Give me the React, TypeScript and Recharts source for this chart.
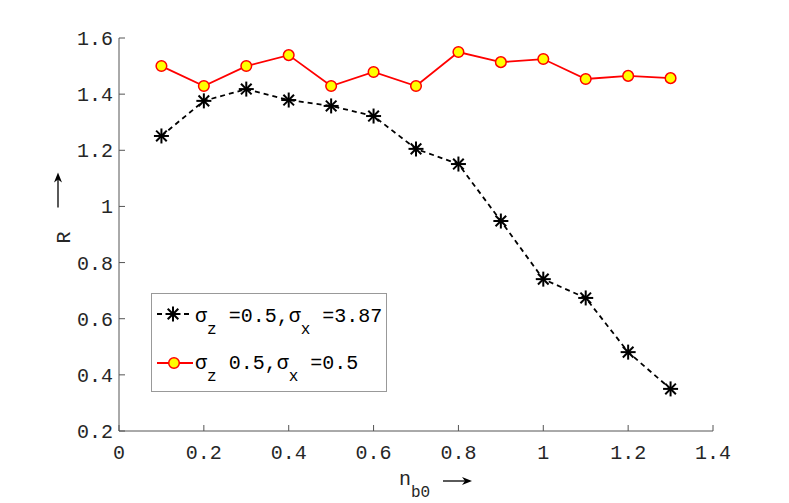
import React from "react";
import { LineChart, Line, XAxis, YAxis, Legend } from "recharts";

// n_b0 sample points and the two R curves
const nb0 = [0.1, 0.2, 0.3, 0.4, 0.5, 0.6, 0.7, 0.8, 0.9, 1.0, 1.1, 1.2, 1.3];
const rSigmaX387 = [1.251, 1.376, 1.418, 1.379, 1.358, 1.322, 1.205, 1.151, 0.948, 0.741, 0.674, 0.481, 0.35];
const rSigmaX05 = [1.5, 1.429, 1.5, 1.539, 1.429, 1.479, 1.429, 1.55, 1.514, 1.525, 1.454, 1.465, 1.457];

const xTicks = [0, 0.2, 0.4, 0.6, 0.8, 1, 1.2, 1.4];
const yTicks = [0.2, 0.4, 0.6, 0.8, 1, 1.2, 1.4, 1.6];

// legend text pieces: [sigma, sub, middle, sub, tail]
const legendStar = ["σ", "z", " =0.5,σ", "x", " =3.87"];
const legendCircle = ["σ", "z", " 0.5,σ", "x", " =0.5"];

const data = nb0.map((x, i) => ({ x, star: rSigmaX387[i], circle: rSigmaX05[i] }));

const FONT = "'Liberation Mono', 'DejaVu Sans Mono', monospace";
const AXIS = "#555";
const TEXT = "#262626";
const TICK = 6;
const FS = 20;

function BottomTick({ x, y, payload }: any) {
  return (
    <g>
      <line x1={x} y1={y} x2={x} y2={y - TICK} stroke={AXIS} />
      <text x={x} y={y + 28} textAnchor="middle" fontFamily={FONT} fontSize={FS} fill={TEXT}>
        {payload.value}
      </text>
    </g>
  );
}

function TopTick({ x, y }: any) {
  return <line x1={x} y1={y} x2={x} y2={y + TICK} stroke={AXIS} />;
}

function LeftTick({ x, y, payload }: any) {
  return (
    <g>
      <line x1={x} y1={y} x2={x + TICK} y2={y} stroke={AXIS} />
      <text x={x - 6} y={y + 7} textAnchor="end" fontFamily={FONT} fontSize={FS} fill={TEXT}>
        {payload.value}
      </text>
    </g>
  );
}

function RightTick({ x, y }: any) {
  return <line x1={x} y1={y} x2={x - TICK} y2={y} stroke={AXIS} />;
}

function arrowHead(x: number, y: number, dir: "right" | "up") {
  if (dir === "right") return `M${x} ${y} L${x - 10} ${y - 4} L${x - 7} ${y} L${x - 10} ${y + 4} Z`;
  return `M${x} ${y} L${x - 4} ${y + 10} L${x} ${y + 7} L${x + 4} ${y + 10} Z`;
}

function XLabel({ viewBox }: any) {
  const cx = viewBox.x + viewBox.width / 2;
  const base = viewBox.y + 54;
  const ay = base - 4;
  const x0 = cx + 27;
  const x1 = cx + 56;
  return (
    <g>
      <text x={cx - 17} y={base} fontFamily={FONT} fontSize={FS} fill={TEXT}>
        n<tspan fontSize={16} dy={12}>b0</tspan>
      </text>
      <line x1={x0} y1={ay} x2={x1 - 6} y2={ay} stroke="#000" strokeWidth={1.3} />
      <path d={arrowHead(x1, ay, "right")} fill="#000" />
    </g>
  );
}

function YLabel({ viewBox }: any) {
  const mid = viewBox.y + viewBox.height / 2;
  const bx = viewBox.x + 11;
  const ax = viewBox.x - 1;
  return (
    <g>
      <text
        x={bx}
        y={mid + 3}
        transform={`rotate(-90, ${bx}, ${mid + 3})`}
        textAnchor="middle"
        fontFamily={FONT}
        fontSize={FS}
        fill={TEXT}
      >
        R
      </text>
      <line x1={ax} y1={mid - 27} x2={ax} y2={mid - 56} stroke="#000" strokeWidth={1.3} />
      <path d={arrowHead(ax, mid - 62, "up")} fill="#000" />
    </g>
  );
}

function StarDot({ cx, cy }: any) {
  if (cx == null || cy == null) return null;
  const r = 7.5;
  const d = r * 0.707;
  return (
    <g stroke="#000" strokeWidth={2}>
      <line x1={cx - r} y1={cy} x2={cx + r} y2={cy} />
      <line x1={cx} y1={cy - r} x2={cx} y2={cy + r} />
      <line x1={cx - d} y1={cy - d} x2={cx + d} y2={cy + d} />
      <line x1={cx - d} y1={cy + d} x2={cx + d} y2={cy - d} />
    </g>
  );
}

function LegendText({ parts, y }: { parts: string[]; y: number }) {
  return (
    <text x={44} y={y} fontFamily={FONT} fontSize={FS} fill="#000" xmlSpace="preserve" style={{ whiteSpace: "pre" }}>
      {parts[0]}
      <tspan fontSize={16} dy={12}>{parts[1]}</tspan>
      <tspan dy={-12}>{parts[2]}</tspan>
      <tspan fontSize={16} dy={12}>{parts[3]}</tspan>
      <tspan dy={-12}>{parts[4]}</tspan>
    </text>
  );
}

function LegendBox() {
  return (
    <svg width={237} height={100} style={{ display: "block" }}>
      <rect x={0.5} y={0.5} width={235} height={98} fill="#fff" stroke="#999" />
      {/* dashed black with asterisk */}
      <line x1={6} y1={21} x2={40} y2={21} stroke="#000" strokeWidth={1.8} strokeDasharray="5 4" />
      <StarDot cx={22} cy={21} />
      <LegendText parts={legendStar} y={29} />
      {/* solid red with yellow circle */}
      <line x1={6} y1={70} x2={42} y2={70} stroke="#ff0000" strokeWidth={1.8} />
      <circle cx={23} cy={70} r={5.3} fill="#ffff00" stroke="#ff0000" strokeWidth={1.5} />
      <LegendText parts={legendCircle} y={76} />
    </svg>
  );
}

export default function App() {
  return (
    <div style={{ position: "absolute", left: 0, top: 0, background: "#fff" }}>
      <LineChart width={789} height={503} data={data} margin={{ top: 38, right: 76, bottom: 32, left: 59 }}>
        <XAxis
          dataKey="x"
          type="number"
          domain={[0, 1.4]}
          ticks={xTicks}
          height={40}
          tickSize={0}
          tickMargin={0}
          tickLine={false}
          axisLine={{ stroke: AXIS }}
          tick={<BottomTick />}
          interval={0}
          label={<XLabel />}
        />
        <XAxis
          xAxisId="top"
          orientation="top"
          type="number"
          domain={[0, 1.4]}
          ticks={xTicks}
          height={0}
          tickSize={0}
          tickMargin={0}
          tickLine={false}
          axisLine={{ stroke: AXIS }}
          tick={<TopTick />}
          interval={0}
        />
        <YAxis
          type="number"
          domain={[0.2, 1.6]}
          ticks={yTicks}
          width={60}
          tickSize={0}
          tickMargin={0}
          tickLine={false}
          axisLine={{ stroke: AXIS }}
          tick={<LeftTick />}
          interval={0}
          label={<YLabel />}
        />
        <YAxis
          yAxisId="right"
          orientation="right"
          type="number"
          domain={[0.2, 1.6]}
          ticks={yTicks}
          width={0}
          tickSize={0}
          tickMargin={0}
          tickLine={false}
          axisLine={{ stroke: AXIS }}
          tick={<RightTick />}
          interval={0}
        />
        <Line
          dataKey="star"
          stroke="#000"
          strokeWidth={1.8}
          strokeDasharray="5 4"
          dot={<StarDot />}
          activeDot={false}
          isAnimationActive={false}
        />
        <Line
          dataKey="circle"
          stroke="#ff0000"
          strokeWidth={1.8}
          dot={{ r: 5.3, fill: "#ffff00", stroke: "#ff0000", strokeWidth: 1.5 }}
          activeDot={false}
          isAnimationActive={false}
        />
        <Legend
          layout="vertical"
          align="center"
          verticalAlign="middle"
          content={<LegendBox />}
          wrapperStyle={{ left: 151, top: 293, width: 237, height: 100 }}
        />
      </LineChart>
    </div>
  );
}
